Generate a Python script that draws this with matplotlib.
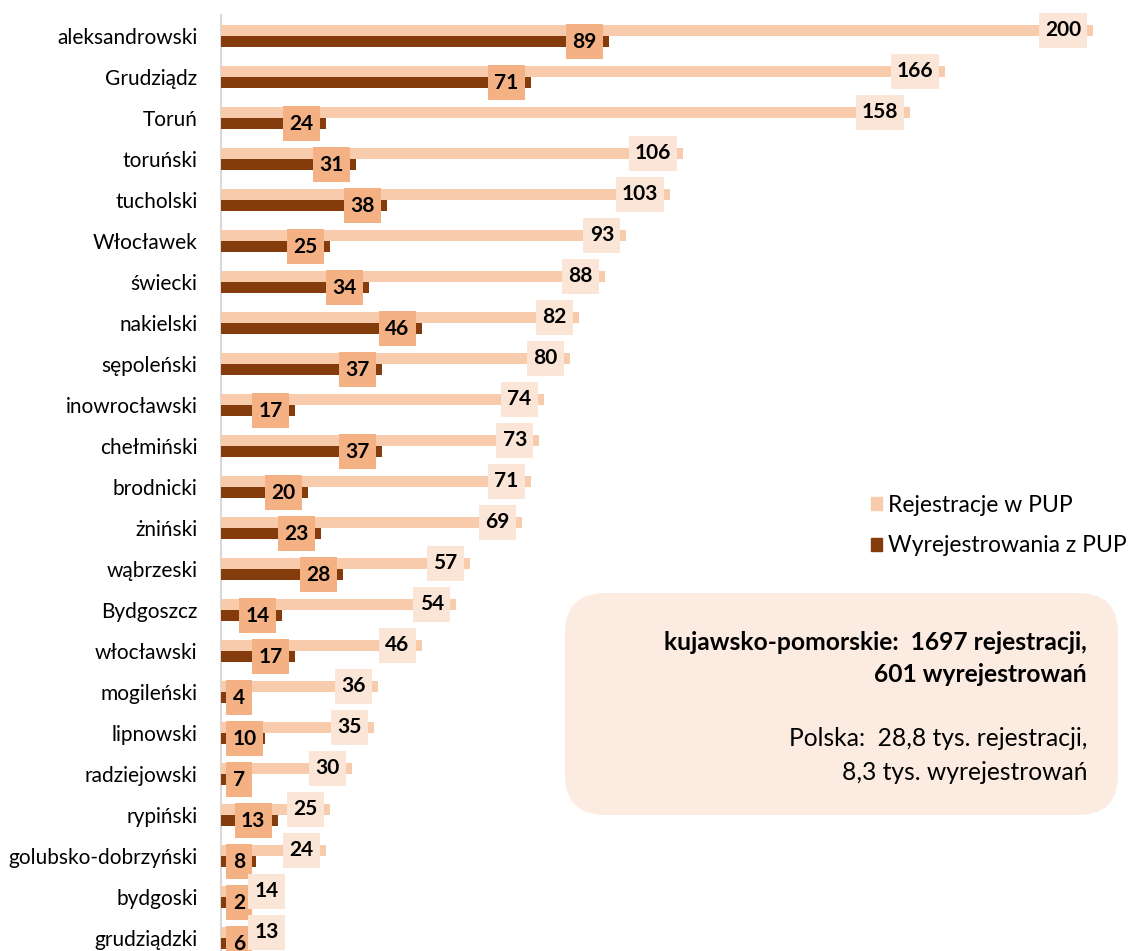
import matplotlib.pyplot as plt
from matplotlib.patches import Rectangle, FancyBboxPatch, Patch

plt.rcParams['font.family'] = ['Lato', 'DejaVu Sans']

POWIATY = ["aleksandrowski", "Grudziądz", "Toruń", "toruński", "tucholski",
           "Włocławek", "świecki", "nakielski", "sępoleński", "inowrocławski",
           "chełmiński", "brodnicki", "żniński", "wąbrzeski", "Bydgoszcz",
           "włocławski", "mogileński", "lipnowski", "radziejowski", "rypiński",
           "golubsko-dobrzyński", "bydgoski", "grudziądzki"]
REJESTRACJE = [200, 166, 158, 106, 103, 93, 88, 82, 80, 74, 73, 71, 69, 57,
               54, 46, 36, 35, 30, 25, 24, 14, 13]
WYREJESTROWANIA = [89, 71, 24, 31, 38, 25, 34, 46, 37, 17, 37, 20, 23, 28,
                   14, 17, 4, 10, 7, 13, 8, 2, 6]

C_REJ = "#F8CBAD"
C_WYR = "#843C0C"
C_BOX_WYR = "#F4B183"
C_BOX_REJ = "#FBE5D6"
C_NOTE = "#FCEBE1"

W, H = 1131, 951
X0 = 221          # lewa krawedz osi w px
PX = 4.36         # px na jednostke
ROW0, ROWH = 36, 41

fig = plt.figure(figsize=(W / 100, H / 100), dpi=100)
ax = fig.add_axes([X0 / W, 0, 1 - X0 / W, 1])
ax.set_xlim(0, (W - X0) / PX)
ax.set_ylim((H - ROW0) / ROWH, -ROW0 / ROWH)

y = list(range(len(POWIATY)))
bh = 0.27
ax.barh([i - bh / 2 for i in y], REJESTRACJE, height=bh, color=C_REJ, zorder=2)
ax.barh([i + bh / 2 for i in y], WYREJESTROWANIA, height=bh, color=C_WYR, zorder=2)

box_h = 35 / ROWH


def box_w(v):
    return (15 + 11 * len(str(v))) / PX


for i in y:
    # etykieta wyrejestrowan
    v = WYREJESTROWANIA[i]
    w = box_w(v)
    left = max(v - 6 / PX - w, 5 / PX)
    dark_right = left + w
    ax.add_patch(Rectangle((left, i + bh / 2 - box_h / 2), w, box_h,
                           color=C_BOX_WYR, zorder=3, lw=0))
    ax.text(left + w / 2, i + bh / 2, str(v), ha="center", va="center",
            fontsize=15, fontweight="bold", zorder=5)
    # etykieta rejestracji
    v = REJESTRACJE[i]
    w = box_w(v)
    left = max(v - 6 / PX - w, dark_right - 4 / PX)
    ax.add_patch(Rectangle((left, i - bh / 2 - box_h / 2), w, box_h,
                           color=C_BOX_REJ, zorder=4, lw=0))
    ax.text(left + w / 2, i - bh / 2, str(v), ha="center", va="center",
            fontsize=15, fontweight="bold", zorder=5)

ax.set_yticks(y)
ax.set_yticklabels(POWIATY, fontsize=15)
ax.tick_params(axis="y", length=0, pad=17)
ax.set_xticks([])
for s in ax.spines.values():
    s.set_visible(False)
ax.plot([0, 0], [-0.51, (H - ROW0) / ROWH], color="#D9D9D9", lw=1.5,
        zorder=1, clip_on=False)

handles = [Patch(color=C_REJ, label="Rejestracje w PUP"),
           Patch(color=C_WYR, label="Wyrejestrowania z PUP")]
fig.legend(handles=handles, loc="upper left",
           bbox_to_anchor=(871 / W, 1 - 495 / H), frameon=False,
           fontsize=16.5, handlelength=0.5, handleheight=0.5,
           handletextpad=0.25, labelspacing=0.85, borderpad=0, borderaxespad=0)

# ramka z podsumowaniem
ov = fig.add_axes([0, 0, 1, 1], zorder=10)
ov.set_xlim(0, W)
ov.set_ylim(H, 0)
ov.axis("off")
ov.add_patch(FancyBboxPatch((565 + 40, 593 + 40), 553 - 80, 222 - 80,
                            boxstyle="round,pad=40", color=C_NOTE, lw=0))
ov.text(1087, 642, "kujawsko-pomorskie:  1697 rejestracji,", ha="right",
        va="center", fontsize=17.7, fontweight="bold")
ov.text(1087, 674, "601 wyrejestrowań", ha="right", va="center",
        fontsize=17.7, fontweight="bold")
ov.text(1087, 738, "Polska:  28,8 tys. rejestracji,", ha="right",
        va="center", fontsize=17.7)
ov.text(1087, 772, "8,3 tys. wyrejestrowań", ha="right", va="center",
        fontsize=17.7)

fig.savefig("out.png", dpi=100)
